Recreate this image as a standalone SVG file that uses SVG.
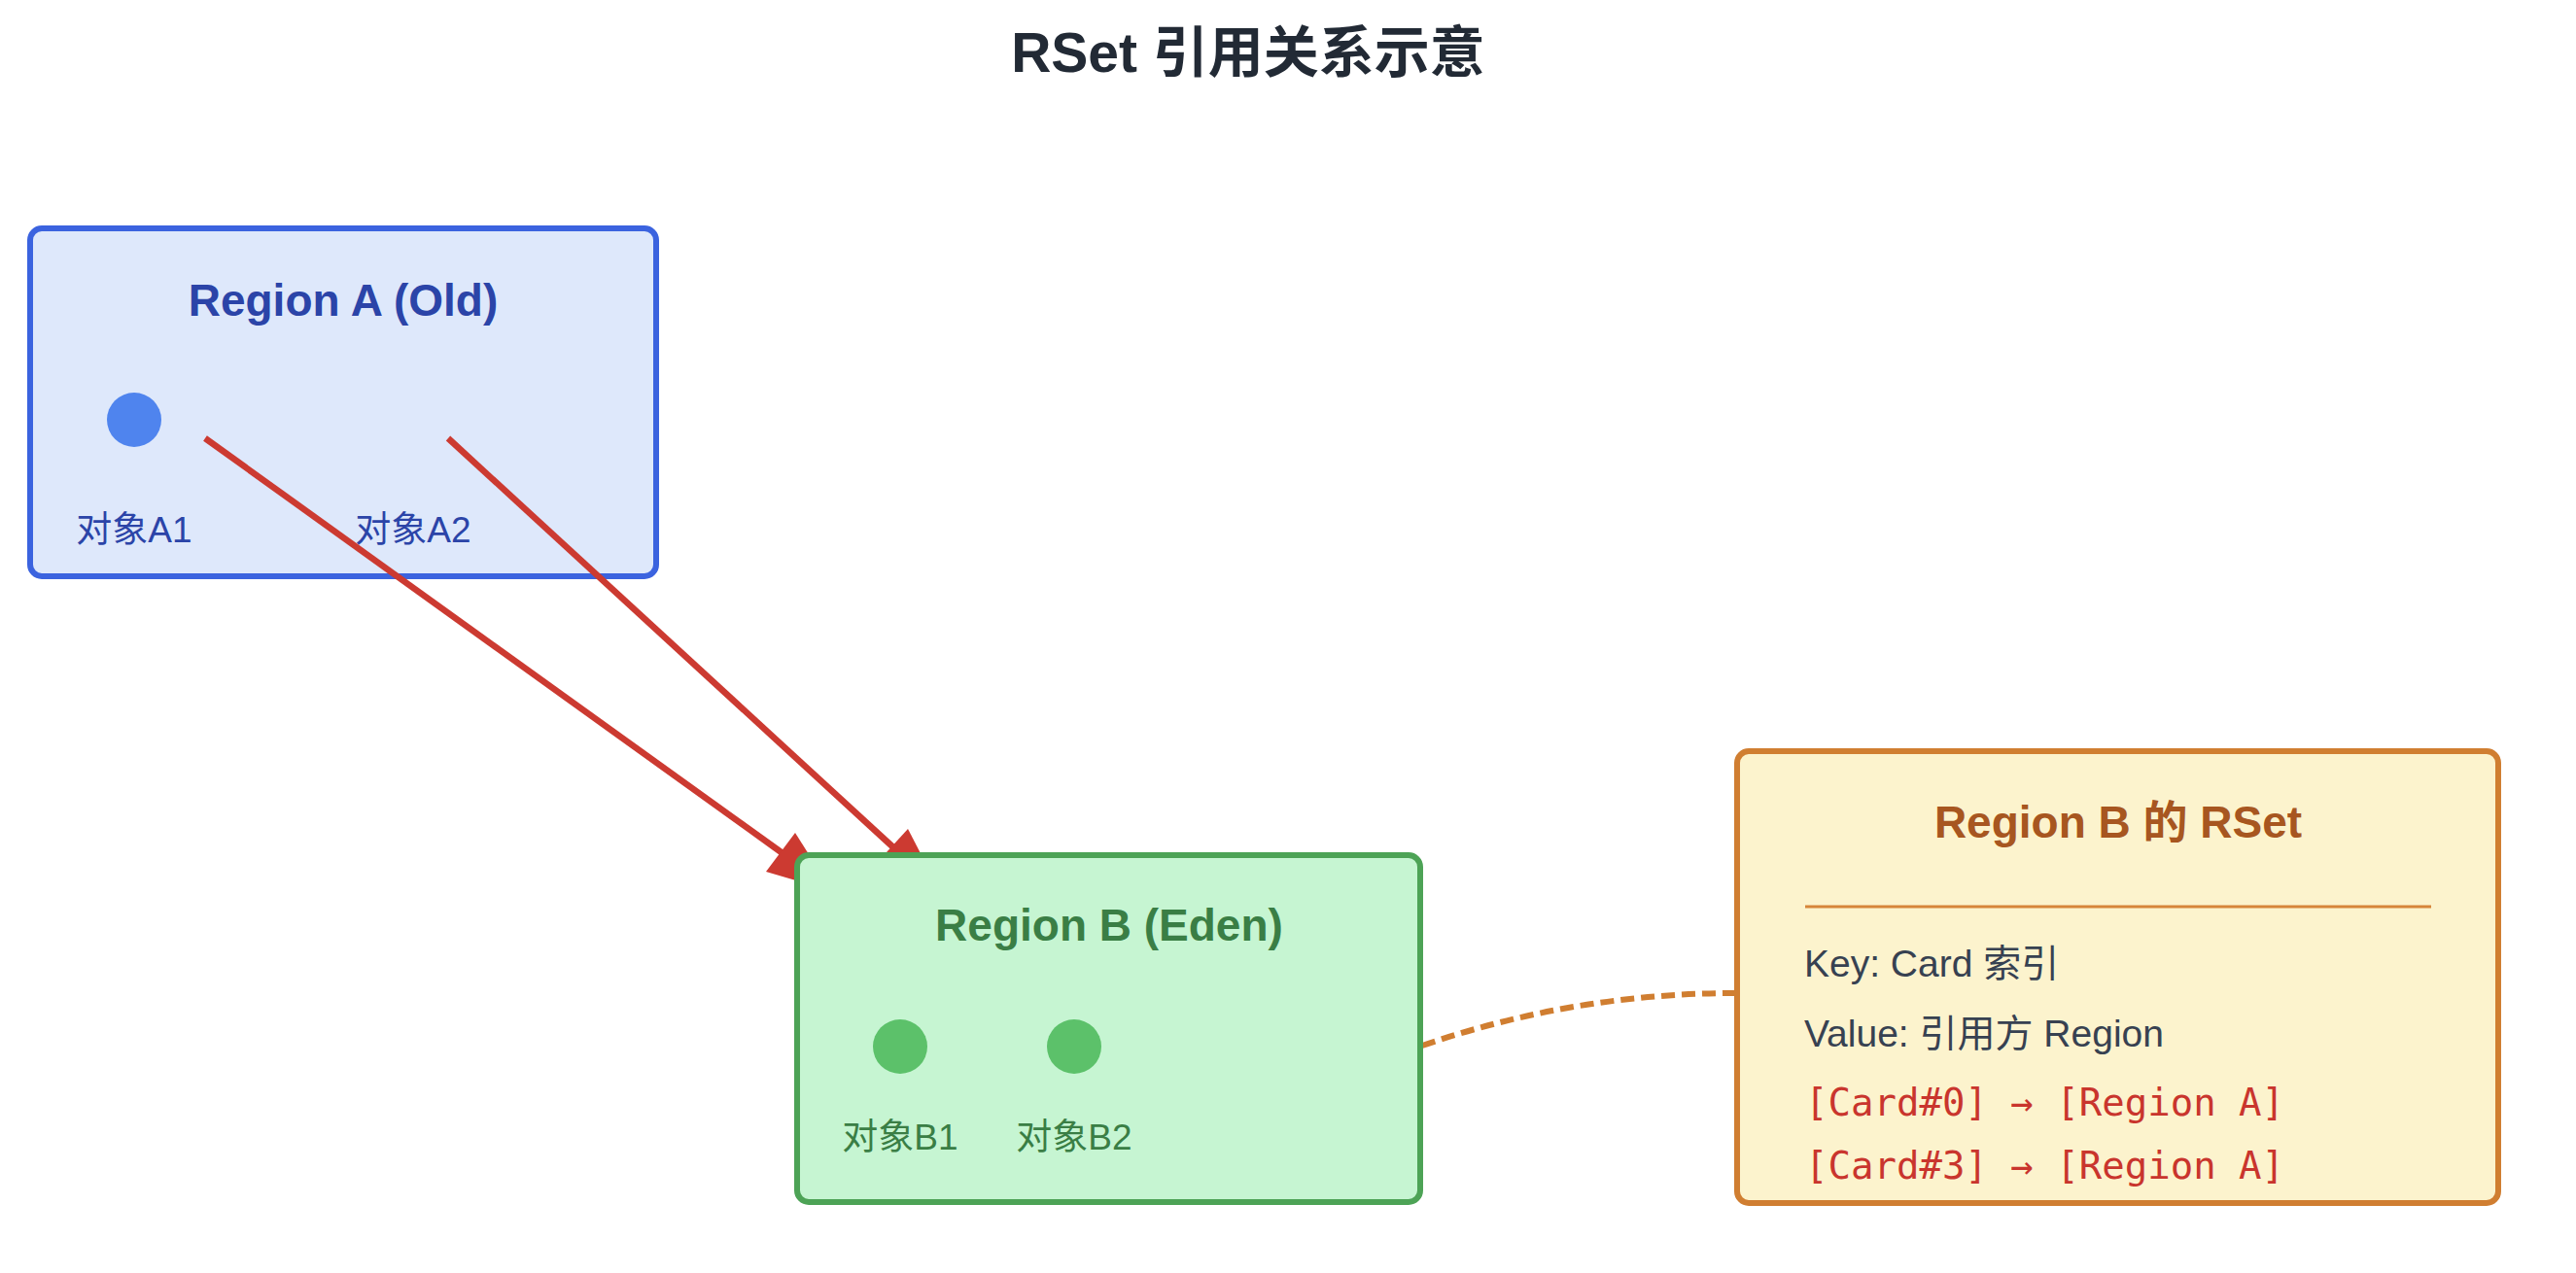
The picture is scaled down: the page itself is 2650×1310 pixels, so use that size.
<svg xmlns="http://www.w3.org/2000/svg" width="2650" height="1310" viewBox="0 0 2650 1310">
  <style>
    .sans { font-family: "Liberation Sans", "Noto Sans CJK SC", sans-serif; }
    .mono { font-family: "DejaVu Sans Mono", "Liberation Mono", "Noto Sans CJK SC", monospace; }
    .title { font-size: 57px; font-weight: bold; fill: #222a35; }
    .rtitle { font-size: 46px; font-weight: bold; text-anchor: middle; }
    .label { font-size: 37px; text-anchor: middle; }
    .info { font-size: 39px; fill: #374151; }
    .entry { font-size: 39px; fill: #c9352d; }
    .arrow { stroke: #cc3a31; stroke-width: 6.5; fill: none; }
    .head { fill: #cc3a31; }
  </style>
  <rect width="2650" height="1310" fill="#ffffff"/>
  <text class="sans title" x="1284" y="74" text-anchor="middle">RSet 引用关系示意</text>

  <g id="region-a">
    <rect x="31" y="235" width="644" height="358" rx="12" fill="#dee8fb" stroke="#3b63df" stroke-width="6"/>
    <text class="sans rtitle" x="353" y="325" fill="#2b44a8">Region A (Old)</text>
    <circle cx="138" cy="432" r="28" fill="#4f84ee"/>
    <text class="sans label" x="138" y="558" fill="#2b44a8">对象A1</text>
    <text class="sans label" x="425" y="558" fill="#2b44a8">对象A2</text>
  </g>

  <g id="connectors">
    <line class="arrow" x1="211" y1="451" x2="805" y2="878"/>
    <polygon class="head" points="788,897 818,857 856,917"/>
    <line class="arrow" x1="461" y1="451" x2="919" y2="872"/>
    <polygon class="head" points="934,853 901,889 966,915"/>
    <path d="M1463,1076 Q1620,1022 1785,1022" fill="none" stroke="#d07e31" stroke-width="6" stroke-dasharray="14 7"/>
  </g>

  <g id="region-b">
    <rect x="820" y="880" width="641" height="357" rx="12" fill="#c6f5d2" stroke="#4da356" stroke-width="6"/>
    <text class="sans rtitle" x="1141" y="968" fill="#3a7e45">Region B (Eden)</text>
    <circle cx="926" cy="1077" r="28" fill="#5cc16a"/>
    <circle cx="1105" cy="1077" r="28" fill="#5cc16a"/>
    <text class="sans label" x="926" y="1183" fill="#3a7e45">对象B1</text>
    <text class="sans label" x="1105" y="1183" fill="#3a7e45">对象B2</text>
  </g>

  <g id="rset">
    <rect x="1787" y="773" width="783" height="465" rx="12" fill="#fcf3cd" stroke="#d07e31" stroke-width="6"/>
    <text class="sans rtitle" x="2179" y="862" fill="#a75620">Region B 的 RSet</text>
    <line x1="1857" y1="933" x2="2501" y2="933" stroke="#d6853a" stroke-width="3"/>
    <text class="sans info" x="1856" y="1005">Key: Card 索引</text>
    <text class="sans info" x="1856" y="1077">Value: 引用方 Region</text>
    <text class="mono entry" x="1857" y="1148">[Card#0] → [Region A]</text>
    <text class="mono entry" x="1857" y="1213">[Card#3] → [Region A]</text>
  </g>
</svg>
